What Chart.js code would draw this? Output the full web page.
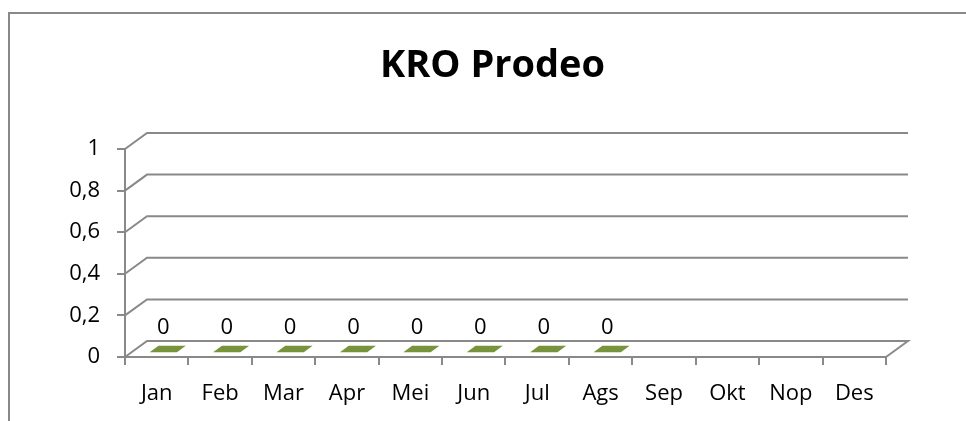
<!DOCTYPE html>
<html>
<head>
<meta charset="utf-8">
<script src="https://cdn.jsdelivr.net/npm/chart.js@4"></script>
<style>
  html, body { margin: 0; padding: 0; background: #fff; }
  #wrap { position: relative; width: 966px; height: 421px; }
</style>
</head>
<body>
<div id="wrap"><canvas id="chart"></canvas></div>
<script>
// data
const months = ['Jan', 'Feb', 'Mar', 'Apr', 'Mei', 'Jun', 'Jul', 'Ags', 'Sep', 'Okt', 'Nop', 'Des'];
const prodeo = [0, 0, 0, 0, 0, 0, 0, 0, null, null, null, null];
const yTickLabels = ['0', '0,2', '0,4', '0,6', '0,8', '1'];

const FONT = '"Open Sans", "Liberation Sans", sans-serif';
const GRID = '#898989';
const GREEN = '#77933C';
// 3d depth of the back wall
const DX = 22, DY = -16;
const F1 = 0.3, F2 = 0.7; // depth slice the bars sit in

// excel-ish 3d walls + outer frame
const wallPlugin = {
    id: 'wall',
    beforeDraw(chart) {
        const ctx = chart.ctx;
        ctx.save();
        ctx.strokeStyle = GRID;
        ctx.lineWidth = 2;
        ctx.beginPath();
        ctx.moveTo(9, chart.height);
        ctx.lineTo(9, 13);
        ctx.lineTo(chart.width, 13);
        ctx.stroke();
        ctx.restore();
    },
    beforeDatasetsDraw(chart) {
        const {ctx, chartArea: {left, right}, scales: {y}} = chart;
        ctx.save();
        ctx.strokeStyle = GRID;
        ctx.lineWidth = 2;
        y.ticks.forEach((t) => {
            const py = y.getPixelForValue(t.value);
            ctx.beginPath();
            ctx.moveTo(left, py);
            ctx.lineTo(left + DX, py + DY);
            ctx.lineTo(right + DX, py + DY);
            if (t.value === 0) ctx.lineTo(right, py);
            ctx.stroke();
        });
        ctx.restore();
    },
    afterDatasetsDraw(chart) {
        const ctx = chart.ctx;
        const meta = chart.getDatasetMeta(0);
        const data = chart.data.datasets[0].data;
        ctx.save();
        meta.data.forEach((bar, i) => {
            if (data[i] === null) return;
            const x0 = bar.x - bar.width / 2, x1 = bar.x + bar.width / 2;
            const top = bar.y, base = bar.base;
            ctx.fillStyle = GREEN;
            // front face
            if (base - top > 0.5) {
                ctx.fillRect(x0 + DX * F1, top + DY * F1, bar.width, base - top);
            }
            // top face
            ctx.beginPath();
            ctx.moveTo(x0 + DX * F1, top + DY * F1);
            ctx.lineTo(x1 + DX * F1, top + DY * F1);
            ctx.lineTo(x1 + DX * F2, top + DY * F2);
            ctx.lineTo(x0 + DX * F2, top + DY * F2);
            ctx.closePath();
            ctx.fill();
            // value label
            ctx.fillStyle = '#000';
            ctx.font = '22px ' + FONT;
            ctx.textAlign = 'center';
            ctx.textBaseline = 'middle';
            ctx.fillText(String(data[i]), bar.x + DX * F1, top + DY * F1 - 24);
        });
        ctx.restore();
    }
};

const config = {
    type: 'bar',
    data: {
        labels: months,
        datasets: [{
            label: 'KRO Prodeo',
            data: prodeo,
            backgroundColor: 'rgba(0,0,0,0)',
            borderWidth: 0,
            categoryPercentage: 1,
            barPercentage: 0.43
        }]
    },
    options: {
        responsive: true,
        maintainAspectRatio: false,
        animation: false,
        layout: {
            padding: { left: 19, right: 0, top: 0, bottom: 0 }
        },
        scales: {
            x: {
                grid: {
                    offset: true,
                    drawOnChartArea: false,
                    drawTicks: true,
                    tickLength: 8,
                    color: GRID,
                    lineWidth: 2
                },
                border: { display: true, color: GRID, width: 2 },
                ticks: {
                    color: '#000',
                    font: { family: FONT, size: 22 },
                    padding: 16,
                    maxRotation: 0
                },
                afterFit(scale) { scale.height = 64; }
            },
            y: {
                min: 0,
                max: 1,
                ticks: {
                    stepSize: 0.2,
                    color: '#000',
                    font: { family: FONT, size: 22 },
                    padding: 17,
                    callback: (v, i) => yTickLabels[i]
                },
                grid: {
                    drawOnChartArea: false,
                    drawTicks: true,
                    tickLength: 8,
                    color: GRID,
                    lineWidth: 2
                },
                border: { display: true, color: GRID, width: 2 },
                afterFit(scale) { scale.width = 106; }
            },
            // empty space on the right, where the back wall sticks out
            yRight: {
                position: 'right',
                display: true,
                grid: { display: false },
                border: { display: false },
                ticks: { display: false },
                afterFit(scale) { scale.width = 80; }
            }
        },
        plugins: {
            legend: { display: false },
            tooltip: { enabled: false },
            title: {
                display: true,
                text: 'KRO Prodeo',
                color: '#000',
                font: { family: FONT, size: 38, weight: 'bold', lineHeight: 1.2 },
                padding: { top: 43, bottom: 60.4 }
            }
        }
    },
    plugins: [wallPlugin]
};

new Chart(document.getElementById('chart').getContext('2d'), config);
</script>
</body>
</html>
